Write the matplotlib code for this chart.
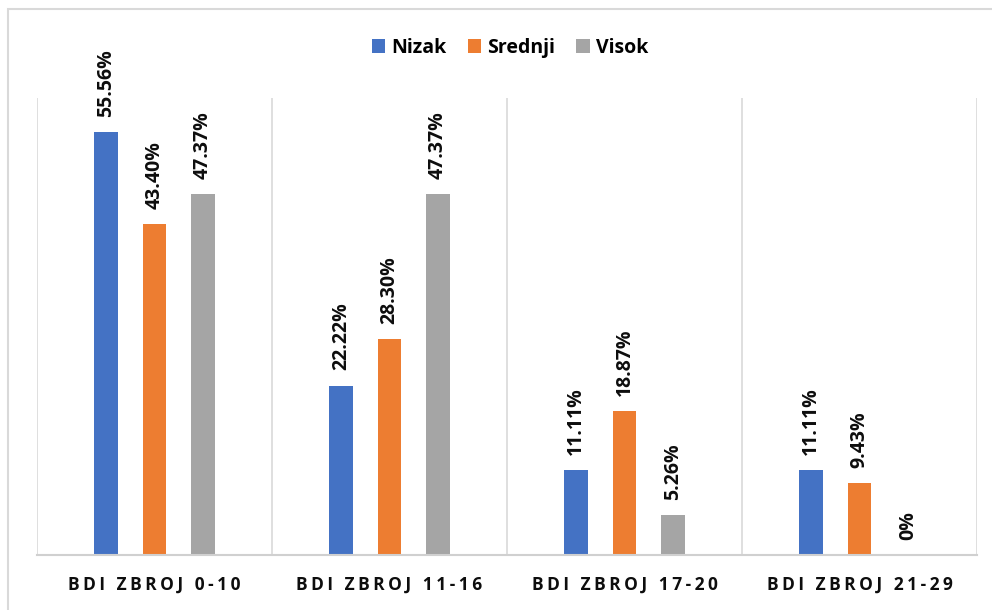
import matplotlib.pyplot as plt
from matplotlib.patches import Rectangle
import numpy as np

categories = ['BDI ZBROJ 0-10', 'BDI ZBROJ 11-16', 'BDI ZBROJ 17-20', 'BDI ZBROJ 21-29']
series_names = ['Nizak', 'Srednji', 'Visok']
nizak = [55.56, 22.22, 11.11, 11.11]
srednji = [43.40, 28.30, 18.87, 9.43]
visok = [47.37, 47.37, 5.26, 0.0]
labels_nizak = ['55.56%', '22.22%', '11.11%', '11.11%']
labels_srednji = ['43.40%', '28.30%', '18.87%', '9.43%']
labels_visok = ['47.37%', '47.37%', '5.26%', '0%']

colors = ['#4472C4', '#ED7D31', '#A5A5A5']

plt.rcParams['font.family'] = ['Open Sans', 'DejaVu Sans']


def spaced(text):
    # mimic the wide letter spacing of the category labels
    return '\u2009'.join(text)


fig = plt.figure(figsize=(9.92, 6.10), dpi=100)
fig.patches.append(Rectangle((8 / 992, -0.1), 1.2, 1 - 9 / 610 + 0.1,
                             transform=fig.transFigure, fill=False,
                             edgecolor='#d9d9d9', linewidth=1.5))

ax = fig.add_axes([37 / 992, (610 - 555) / 610, (977 - 37) / 992, (555 - 98) / 610])

x = np.arange(len(categories))
width = 0.102
step = 0.206
all_series = [nizak, srednji, visok]
all_labels = [labels_nizak, labels_srednji, labels_visok]

for i, (vals, labs) in enumerate(zip(all_series, all_labels)):
    pos = x + (i - 1) * step
    ax.bar(pos, vals, width, color=colors[i], label=series_names[i])
    for p, v, lab in zip(pos, vals, labs):
        ax.annotate(lab, (p, v), xytext=(0, 11), textcoords='offset points',
                    rotation=90, ha='center', va='bottom',
                    fontsize=14, fontweight='bold', color='#0d0d0d')

ax.set_xlim(-0.5, len(categories) - 0.5)
ax.set_ylim(0, 60)
ax.set_yticks([])
ax.set_xticks(x)
ax.set_xticklabels([spaced(c) for c in categories], fontsize=12.5,
                   fontweight='bold', color='#0d0d0d')
ax.tick_params(axis='x', length=0, pad=15)

for s in ['top', 'right', 'left']:
    ax.spines[s].set_visible(False)
ax.spines['bottom'].set_color('#d0d0d0')
ax.spines['bottom'].set_linewidth(1.5)

for b in np.arange(-0.5, len(categories), 1.0):
    ax.axvline(b, color='#d9d9d9', linewidth=1.2, zorder=0)

ax.legend(loc='center', bbox_to_anchor=(510 / 992, 1 - 48 / 610),
          bbox_transform=fig.transFigure, ncol=3, frameon=False,
          prop={'size': 14, 'weight': 'bold'}, handlelength=0.7,
          handleheight=0.7, handletextpad=0.3, columnspacing=1.1)

fig.savefig('out.png', dpi=100)
